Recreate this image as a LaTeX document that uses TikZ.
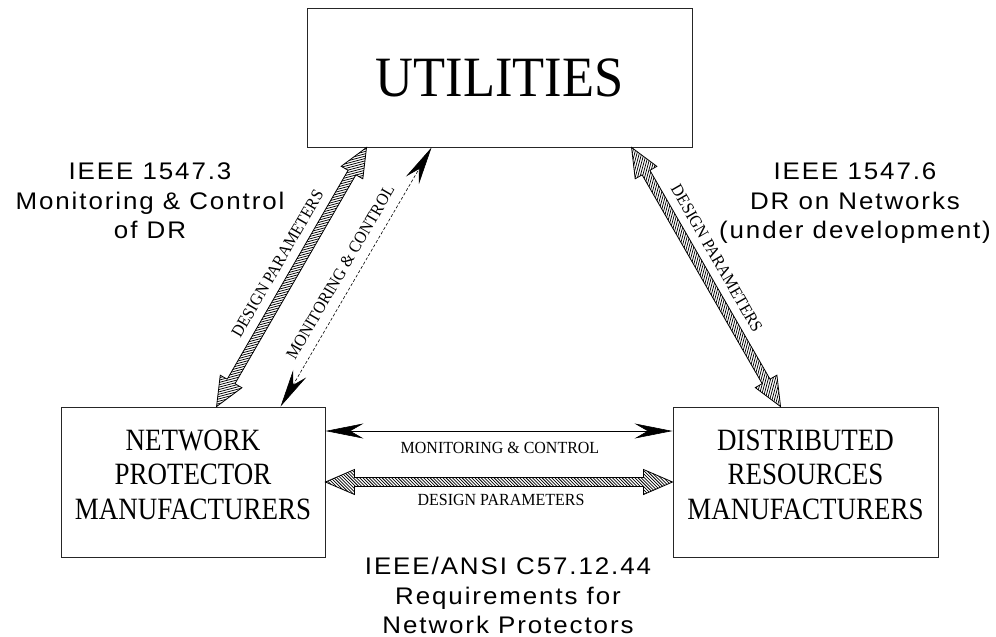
\documentclass[tikz,border=0pt]{standalone}
\usepackage{fontspec}
\usetikzlibrary{arrows.meta,calc}
\newfontfamily\lsans[LetterSpace=8,FakeStretch=1.08]{Liberation Sans}
\newfontfamily\bigserif[FakeStretch=0.92]{Liberation Serif}
\newfontfamily\boxserif[FakeStretch=0.87]{Liberation Serif}
\newfontfamily\smserif[FakeStretch=0.94]{Liberation Serif}

\newcommand\hatcharrow[2]{%
  \path (#1); \pgfgetlastxy{\hax}{\hay}%
  \path (#2); \pgfgetlastxy{\hbx}{\hby}%
  \pgfmathsetmacro\hang{atan2((\hby)-(\hay),(\hbx)-(\hax))}%
  \pgfmathsetmacro\hlen{veclen((\hbx)-(\hax),(\hby)-(\hay))}%
  \begin{scope}[shift={(\hax,\hay)},rotate=\hang]
    \def\hpoly{(0pt,0pt) -- (29pt,12.5pt) -- (29pt,4.5pt) -- (\hlen pt-29pt,4.5pt) -- (\hlen pt-29pt,12.5pt) -- (\hlen pt,0pt) -- (\hlen pt-29pt,-12.5pt) -- (\hlen pt-29pt,-4.5pt) -- (29pt,-4.5pt) -- (29pt,-12.5pt) -- cycle}%
    \begin{scope}
      \clip \hpoly;
      \foreach \i in {-30,-26.8,...,420} \draw[line width=0.75pt] (\i pt,14pt) -- (\i pt+28pt,-14pt);
    \end{scope}
    \draw[line width=0.8pt,line join=miter] \hpoly;
  \end{scope}}

\begin{document}
\begin{tikzpicture}[x=1pt,y=-1pt,
  box/.style={draw=black!85,line width=0.9pt,inner sep=0pt},
  boxtext/.style={font=\boxserif\fontsize{31}{34.5}\selectfont,align=center,inner sep=0pt},
  stdlabel/.style={font=\lsans\fontsize{24}{29.5}\selectfont,align=center,inner sep=0pt,anchor=north},
  smalllabel/.style={font=\smserif\fontsize{17}{20}\selectfont,inner sep=0pt},
  thinarr/.style={line width=0.6pt,{Stealth[length=38pt,width=15pt,inset=13pt]}-{Stealth[length=38pt,width=15pt,inset=13pt]}},
  dasharr/.style={thinarr,dash pattern=on 3pt off 2pt}]
\useasboundingbox (0,0) rectangle (996,637);

\node[box,minimum width=385pt,minimum height=139pt,font=\bigserif\fontsize{57}{60}\selectfont] (util) at (499.5,77.5) {UTILITIES};
\node[box,minimum width=264pt,minimum height=150pt] (np) at (193,482) {};
\node[box,minimum width=265pt,minimum height=150pt] (dr) at (805.5,482) {};
\node[boxtext] (nptext) at (193,474.5) {NETWORK\\PROTECTOR\\MANUFACTURERS};
\node[boxtext] (drtext) at (805.5,474.5) {DISTRIBUTED\\RESOURCES\\MANUFACTURERS};

\coordinate (npDP) at ([xshift=156pt]np.north west);
\coordinate (utDPl) at ([xshift=60pt]util.south west);
\coordinate (npMC) at ([xshift=220pt]np.north west);
\coordinate (utMC) at ([xshift=125pt]util.south west);
\coordinate (utDPr) at ([xshift=325pt]util.south west);
\coordinate (drDP) at ([xshift=108pt]dr.north west);
\coordinate (npMCh) at ([yshift=51pt]np.east);
\coordinate (drMCh) at ([yshift=51pt]dr.west);

\hatcharrow{npDP}{utDPl}
\hatcharrow{utDPr}{drDP}
\hatcharrow{np.east}{dr.west}
\draw[dasharr] (npMC) -- (utMC);
\draw[thinarr] (npMCh) -- (drMCh);

\path (npDP) -- (utDPl) node[smalllabel,sloped,pos=0.515,above=13pt] (lblDPl) {DESIGN PARAMETERS};
\path (npMC) -- (utMC) node[smalllabel,sloped,pos=0.487,above=10pt] (lblMCd) {MONITORING \& CONTROL};
\path (utDPr) -- (drDP) node[smalllabel,sloped,pos=0.464,above=12.7pt] (lblDPr) {DESIGN PARAMETERS};
\node[smalllabel,anchor=base] (lblMCh) at (500,453) {MONITORING \& CONTROL};
\node[smalllabel,anchor=base] (lblDPh) at (501,505) {DESIGN PARAMETERS};

\node[stdlabel] (std3) at (150,163) {IEEE 1547.3\\Monitoring \& Control\\of DR};
\node[stdlabel] (std6) at (855,163) {IEEE 1547.6\\DR on Networks\\(under development)};
\node[stdlabel] (stdc57) at (508,557) {IEEE/ANSI C57.12.44\\Requirements for\\Network Protectors};
\end{tikzpicture}
\end{document}
